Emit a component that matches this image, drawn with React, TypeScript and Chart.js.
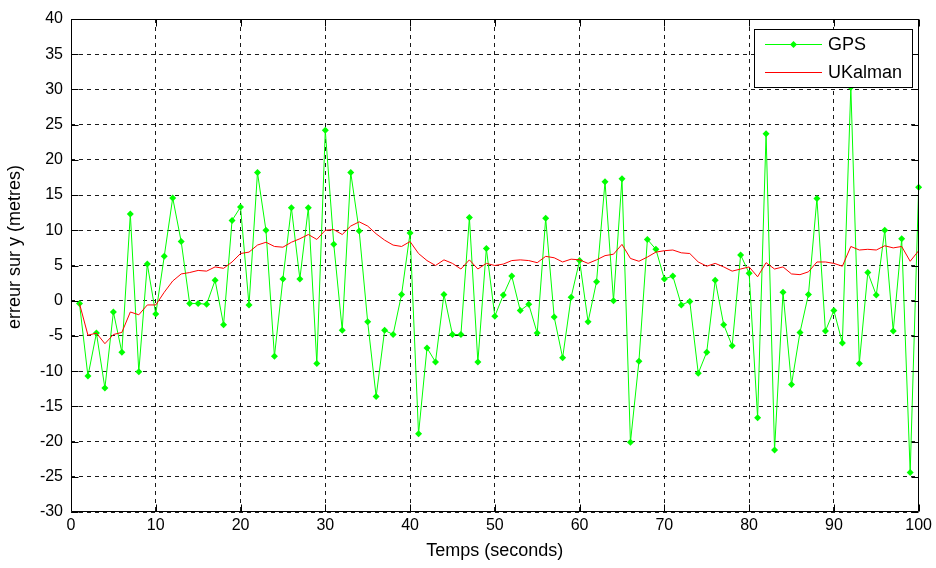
import { useEffect, useRef } from 'react';
import { Chart, registerables } from 'chart.js';

Chart.register(...registerables);

const times = [
  1, 2, 3, 4, 5, 6, 7, 8, 9, 10,
  11, 12, 13, 14, 15, 16, 17, 18, 19, 20,
  21, 22, 23, 24, 25, 26, 27, 28, 29, 30,
  31, 32, 33, 34, 35, 36, 37, 38, 39, 40,
  41, 42, 43, 44, 45, 46, 47, 48, 49, 50,
  51, 52, 53, 54, 55, 56, 57, 58, 59, 60,
  61, 62, 63, 64, 65, 66, 67, 68, 69, 70,
  71, 72, 73, 74, 75, 76, 77, 78, 79, 80,
  81, 82, 83, 84, 85, 86, 87, 88, 89, 90,
  91, 92, 93, 94, 95, 96, 97, 98, 99, 100,
];

const gpsError = [
  -0.4, -10.7, -4.6, -12.4, -1.6, -7.3, 12.3, -10.1, 5.2, -1.9,
  6.3, 14.6, 8.4, -0.4, -0.4, -0.5, 2.9, -3.4, 11.4, 13.3,
  -0.6, 18.2, 10.0, -7.9, 3.1, 13.2, 3.1, 13.2, -8.9, 24.2,
  8.0, -4.2, 18.2, 9.9, -3.0, -13.6, -4.2, -4.8, 0.9, 9.6,
  -18.9, -6.7, -8.7, 0.9, -4.8, -4.8, 11.8, -8.7, 7.4, -2.2,
  0.8, 3.5, -1.4, -0.5, -4.6, 11.7, -2.3, -8.1, 0.5, 5.7,
  -3.0, 2.7, 16.9, 0.0, 17.3, -20.1, -8.6, 8.7, 7.3, 3.1,
  3.5, -0.6, -0.1, -10.3, -7.3, 2.9, -3.4, -6.4, 6.5, 3.9,
  -16.6, 23.7, -21.2, 1.2, -11.9, -4.5, 0.9, 14.5, -4.3, -1.4,
  -6.0, 30.3, -8.9, 4.0, 0.8, 10.0, -4.3, 8.8, -24.4, 16.1,
];

const kalmanError = [
  -0.4, -4.9, -4.6, -6.1, -4.8, -4.5, -1.6, -2.0, -0.6, -0.6,
  1.2, 2.8, 3.8, 4.0, 4.3, 4.2, 4.8, 4.6, 5.5, 6.7,
  6.9, 7.9, 8.3, 7.7, 7.6, 8.3, 8.8, 9.4, 8.7, 10.0,
  10.1, 9.4, 10.6, 11.2, 10.6, 9.5, 8.6, 7.9, 7.7, 8.4,
  6.7, 5.7, 5.0, 5.8, 5.3, 4.5, 5.8, 4.5, 5.3, 5.0,
  5.2, 5.7, 5.8, 5.7, 5.4, 6.3, 6.1, 5.5, 5.9, 5.8,
  5.3, 5.8, 6.4, 6.6, 8.0, 6.0, 5.6, 6.2, 6.9, 7.1,
  7.2, 6.8, 6.7, 5.5, 4.9, 5.3, 4.8, 4.2, 4.5, 4.8,
  3.4, 5.4, 4.5, 4.8, 3.8, 3.7, 4.1, 5.5, 5.5, 5.3,
  4.9, 7.7, 7.2, 7.3, 7.2, 7.8, 7.5, 7.7, 5.6, 7.1,
];

const seriesNames = ['GPS', 'UKalman'];
const xTitle = 'Temps (seconds)';
const yTitle = 'erreur sur y (metres)';

const GREEN = '#00ff00';
const RED = '#ff0000';
const FONT = "'Liberation Sans', Arial, sans-serif";

const framePlugin = {
  id: 'matlabFrame',
  afterDatasetsDraw(chart: any) {
    const { ctx, chartArea, scales } = chart;
    const { left, right, top, bottom } = chartArea;
    const L = Math.round(left) + 0.5;
    const R = Math.round(right) - 0.5;
    const T = Math.round(top) + 0.5;
    const B = Math.round(bottom) - 0.5;
    ctx.save();
    ctx.strokeStyle = '#000';
    ctx.lineWidth = 1;
    ctx.setLineDash([]);
    ctx.beginPath();
    ctx.rect(L, T, R - L, B - T);
    ctx.stroke();
    const tl = 7;
    ctx.beginPath();
    scales.x.ticks.forEach((t: any) => {
      const px = Math.round(scales.x.getPixelForValue(t.value)) + 0.5;
      ctx.moveTo(px, B);
      ctx.lineTo(px, B - tl);
      ctx.moveTo(px, T);
      ctx.lineTo(px, T + tl);
    });
    scales.y.ticks.forEach((t: any) => {
      const py = Math.round(scales.y.getPixelForValue(t.value)) + 0.5;
      ctx.moveTo(L, py);
      ctx.lineTo(L + tl, py);
      ctx.moveTo(R, py);
      ctx.lineTo(R - tl, py);
    });
    ctx.stroke();
    ctx.restore();
  },
  afterDraw(chart: any) {
    const { ctx } = chart;
    const ds = chart.data.datasets;
    ctx.save();
    // y axis title
    ctx.translate(15, 247);
    ctx.rotate(-Math.PI / 2);
    ctx.fillStyle = '#000';
    ctx.font = `18px ${FONT}`;
    ctx.textAlign = 'center';
    ctx.textBaseline = 'middle';
    ctx.fillText(yTitle, 0, 0);
    ctx.restore();

    const bx = 754.5, by = 29.5, bw = 158, bh = 58;
    ctx.save();
    ctx.fillStyle = '#fff';
    ctx.fillRect(bx, by, bw, bh);
    ctx.strokeStyle = '#000';
    ctx.lineWidth = 1;
    ctx.strokeRect(bx, by, bw, bh);
    const rows = [44, 72];
    ds.forEach((d: any, i: number) => {
      const y = rows[i];
      ctx.strokeStyle = d.borderColor;
      ctx.lineWidth = 1;
      ctx.beginPath();
      ctx.moveTo(765, y + 0.5);
      ctx.lineTo(822, y + 0.5);
      ctx.stroke();
      if (d.pointRadius > 0) {
        const cx = 793.5, cy = y + 0.5, r = d.pointRadius;
        ctx.fillStyle = d.backgroundColor;
        ctx.beginPath();
        ctx.moveTo(cx, cy - r);
        ctx.lineTo(cx + r, cy);
        ctx.lineTo(cx, cy + r);
        ctx.lineTo(cx - r, cy);
        ctx.closePath();
        ctx.fill();
      }
      ctx.fillStyle = '#000';
      ctx.font = `18px ${FONT}`;
      ctx.textBaseline = 'middle';
      ctx.textAlign = 'left';
      ctx.fillText(d.label, 828, y + 1);
    });
    ctx.restore();
  },
};

export default function App() {
  const ref = useRef<HTMLCanvasElement | null>(null);

  useEffect(() => {
    document.body.style.margin = '0';
    document.body.style.background = '#fff';
    const canvas = ref.current;
    if (!canvas) return;
    const gpsPts = times.map((t, i) => ({ x: t, y: gpsError[i] }));
    const kalPts = times.map((t, i) => ({ x: t, y: kalmanError[i] }));
    const chart = new Chart(canvas, {
      type: 'line',
      data: {
        datasets: [
          {
            label: seriesNames[0],
            data: gpsPts,
            borderColor: GREEN,
            backgroundColor: GREEN,
            borderWidth: 1,
            pointStyle: 'rectRot',
            pointRadius: 3.5,
            pointBorderWidth: 0,
            pointHoverRadius: 3.5,
            tension: 0,
            clip: false as any,
            order: 1,
          },
          {
            label: seriesNames[1],
            data: kalPts,
            borderColor: RED,
            backgroundColor: RED,
            borderWidth: 1,
            pointRadius: 0,
            tension: 0,
            order: 0,
          },
        ],
      },
      options: {
        responsive: false,
        animation: false,
        events: [],
        layout: { padding: { left: 0, right: 15, top: 19, bottom: 0 } },
        plugins: {
          legend: { display: false },
          tooltip: { enabled: false },
        },
        scales: {
          x: {
            type: 'linear',
            min: 0,
            max: 100,
            afterFit: (s: any) => { s.height = 56; },
            ticks: {
              stepSize: 10,
              padding: 4,
              color: '#000',
              font: { family: FONT, size: 16 },
              maxRotation: 0,
            },
            grid: {
              color: '#1a1a1a',
              lineWidth: 1,
              drawTicks: false,
            },
            border: { display: false, dash: [4, 4] },
            title: {
              display: true,
              text: xTitle,
              color: '#000',
              font: { family: FONT, size: 18 },
              padding: { top: 0, bottom: 6 },
            },
          },
          y: {
            type: 'linear',
            min: -30,
            max: 40,
            afterFit: (s: any) => { s.width = 71; },
            ticks: {
              stepSize: 5,
              padding: 8,
              color: '#000',
              font: { family: FONT, size: 16 },
            },
            grid: {
              color: '#1a1a1a',
              lineWidth: 1,
              drawTicks: false,
            },
            border: { display: false, dash: [4, 4] },
            title: { display: false },
          },
        },
      },
      plugins: [framePlugin],
    });
    return () => chart.destroy();
  }, []);

  return (
    <div style={{ width: 936, height: 568, background: '#fff' }}>
      <canvas ref={ref} width={936} height={568} style={{ display: 'block' }} />
    </div>
  );
}
